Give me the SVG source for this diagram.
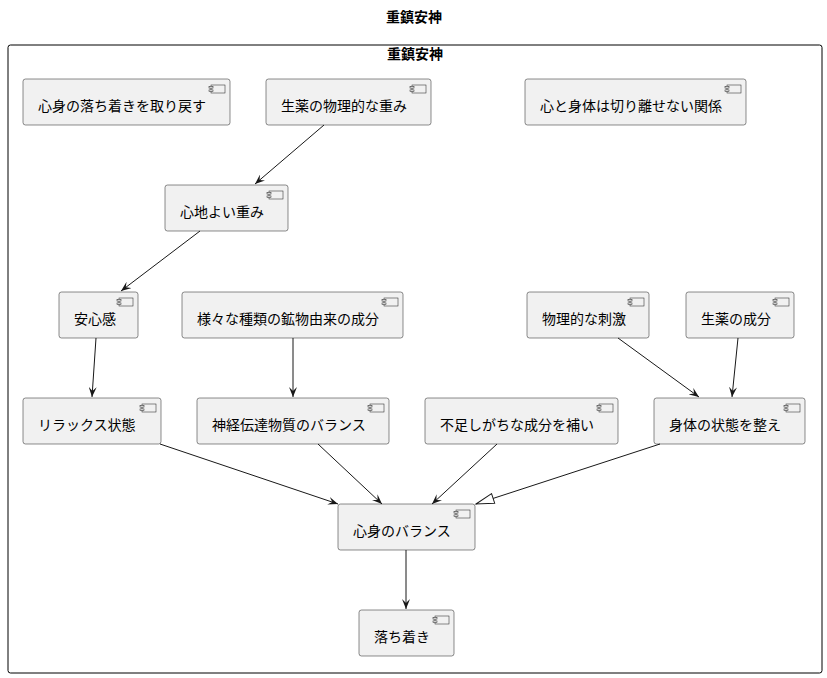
<svg xmlns="http://www.w3.org/2000/svg" width="827" height="678" viewBox="0 0 827 678">
<defs>
<style>
.t{font-family:"Noto Sans CJK JP","Noto Sans",sans-serif;font-size:14px;fill:#000}
.b{font-weight:bold;text-anchor:middle}
.n{fill:#F1F1F1;stroke:#181818;stroke-width:0.5}
.i{fill:#F1F1F1;stroke:#181818;stroke-width:0.5}
.e{stroke:#181818;stroke-width:1;fill:none}
</style>
<marker id="a" viewBox="0 0 10 8" refX="10" refY="4" markerWidth="10" markerHeight="8" markerUnits="userSpaceOnUse" orient="auto"><path d="M0,0 L10,4 L0,8 L4,4 Z" fill="#181818"/></marker>
<marker id="h" viewBox="0 0 20 12" refX="19" refY="6" markerWidth="20" markerHeight="12" markerUnits="userSpaceOnUse" orient="auto"><path d="M1,1 L19,6 L1,11 Z" fill="#FFFFFF" stroke="#181818" stroke-width="1"/></marker>
<g id="ci"><rect x="0" y="0" width="14" height="8" class="i"/><rect x="-2" y="1.5" width="4" height="1.6" class="i"/><rect x="-2" y="4.9" width="4" height="1.6" class="i"/></g>
</defs>
<rect width="827" height="678" fill="#FFFFFF"/>
<text class="t b" x="414" y="22">重鎮安神</text>
<g id="frame">
<rect x="8" y="45" width="814" height="628" rx="2.5" fill="none" stroke="#000" stroke-width="1"/>
<text class="t b" x="415" y="59">重鎮安神</text>
</g>
<g id="n1"><rect class="n" x="23" y="79" width="207" height="46" rx="2.5"/><use href="#ci" x="211" y="85"/><text class="t" x="38" y="111">心身の落ち着きを取り戻す</text></g>
<g id="n2"><rect class="n" x="266" y="79" width="165" height="46" rx="2.5"/><use href="#ci" x="412" y="85"/><text class="t" x="281" y="111">生薬の物理的な重み</text></g>
<g id="n3"><rect class="n" x="525" y="79" width="221" height="46" rx="2.5"/><use href="#ci" x="727" y="85"/><text class="t" x="540" y="111">心と身体は切り離せない関係</text></g>
<g id="n4"><rect class="n" x="165" y="185" width="123" height="46" rx="2.5"/><use href="#ci" x="269" y="191"/><text class="t" x="180" y="217">心地よい重み</text></g>
<g id="n5"><rect class="n" x="59" y="292" width="79" height="46" rx="2.5"/><use href="#ci" x="119" y="298"/><text class="t" x="74" y="324">安心感</text></g>
<g id="n6"><rect class="n" x="182" y="292" width="221" height="46" rx="2.5"/><use href="#ci" x="384" y="298"/><text class="t" x="197" y="324">様々な種類の鉱物由来の成分</text></g>
<g id="n7"><rect class="n" x="527" y="292" width="122" height="46" rx="2.5"/><use href="#ci" x="630" y="298"/><text class="t" x="542" y="324">物理的な刺激</text></g>
<g id="n8"><rect class="n" x="686" y="292" width="108" height="46" rx="2.5"/><use href="#ci" x="775" y="298"/><text class="t" x="701" y="324">生薬の成分</text></g>
<g id="n9"><rect class="n" x="23" y="398" width="138" height="46" rx="2.5"/><use href="#ci" x="142" y="404"/><text class="t" x="38" y="430">リラックス状態</text></g>
<g id="n10"><rect class="n" x="197" y="398" width="192" height="46" rx="2.5"/><use href="#ci" x="370" y="404"/><text class="t" x="212" y="430">神経伝達物質のバランス</text></g>
<g id="n11"><rect class="n" x="425" y="398" width="193" height="46" rx="2.5"/><use href="#ci" x="599" y="404"/><text class="t" x="440" y="430">不足しがちな成分を補い</text></g>
<g id="n12"><rect class="n" x="654" y="398" width="151" height="46" rx="2.5"/><use href="#ci" x="786" y="404"/><text class="t" x="669" y="430">身体の状態を整え</text></g>
<g id="n13"><rect class="n" x="338" y="504" width="137" height="46" rx="2.5"/><use href="#ci" x="456" y="510"/><text class="t" x="353" y="536">心身のバランス</text></g>
<g id="n14"><rect class="n" x="359" y="610" width="95" height="46" rx="2.5"/><use href="#ci" x="435" y="616"/><text class="t" x="374" y="642">落ち着き</text></g>
<g id="edges">
<line class="e" x1="324" y1="125" x2="255" y2="184" marker-end="url(#a)"/>
<line class="e" x1="200" y1="231" x2="121" y2="291" marker-end="url(#a)"/>
<line class="e" x1="96" y1="338" x2="92" y2="397" marker-end="url(#a)"/>
<line class="e" x1="293" y1="338" x2="293" y2="397" marker-end="url(#a)"/>
<line class="e" x1="618" y1="338" x2="699" y2="397" marker-end="url(#a)"/>
<line class="e" x1="738" y1="338" x2="732" y2="397" marker-end="url(#a)"/>
<line class="e" x1="160" y1="444" x2="338" y2="504" marker-end="url(#a)"/>
<line class="e" x1="318" y1="444" x2="382" y2="504" marker-end="url(#a)"/>
<line class="e" x1="497" y1="444" x2="432" y2="504" marker-end="url(#a)"/>
<line class="e" x1="660" y1="444" x2="476" y2="504" marker-end="url(#h)"/>
<line class="e" x1="406" y1="550" x2="406" y2="609" marker-end="url(#a)"/>
</g>
</svg>
